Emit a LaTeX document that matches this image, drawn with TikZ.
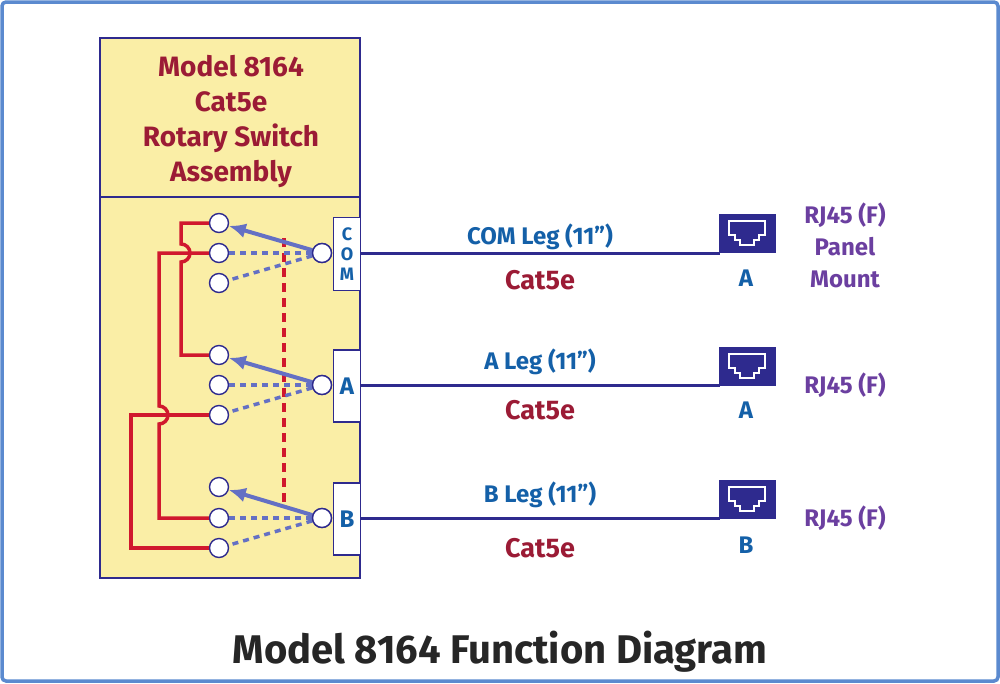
\documentclass[tikz,border=0pt]{standalone}
\usepackage{fontspec}
\setmainfont{Fira Sans}
\usetikzlibrary{arrows.meta}
\definecolor{frame}{HTML}{5B8ACF}
\definecolor{ybg}{HTML}{FAEEA6}
\definecolor{navy}{HTML}{2E2A8E}
\definecolor{ttl}{HTML}{9B1B35}
\definecolor{wred}{HTML}{D0182E}
\definecolor{lblue}{HTML}{6470C4}
\definecolor{tblue}{HTML}{1460A8}
\definecolor{purp}{HTML}{6B3FA0}
\begin{document}
\begin{tikzpicture}[x=1pt,y=-1pt,
  term/.style={circle,draw=navy,fill=white,line width=1.4pt,minimum size=19pt,inner sep=0pt},
  wire/.style={wred,line width=3.5pt},
  dashw/.style={lblue,line width=3.5pt,dash pattern=on 6pt off 5pt},
  blbl/.style={text=tblue,font=\fontsize{24}{26}\selectfont\bfseries},
  plbl/.style={text=purp,font=\fontsize{24}{26}\selectfont\bfseries},
  clbl/.style={text=ttl,font=\fontsize{27}{29}\selectfont\bfseries},
  port/.style={draw=navy,fill=white,line width=1.4pt,minimum width=27pt,minimum height=72pt,inner sep=0pt,text=tblue,font=\fontsize{24}{26}\selectfont\bfseries},
  jack/.style={fill=navy,draw=navy,minimum width=56pt,minimum height=38pt,inner sep=0pt}]
\useasboundingbox (0,0) rectangle (1000,683);
\draw[frame,line width=3.5pt,rounded corners=4pt] (2,2) rectangle (998,681);
% box
\fill[ybg] (100,38) rectangle (360,578);
\draw[navy,line width=1.8pt] (100,38) rectangle (360,578) (100,197) -- (360,197);
\node[text=ttl,align=center,font=\fontsize{28}{35}\selectfont\bfseries] (title) at (231,121) {Model 8164\\Cat5e\\Rotary Switch\\Assembly};
% terminals
\foreach \n/\y in {c1/223,c2/253,c3/283,a1/355,a2/385,a3/415,b1/487,b2/518,b3/548}
  \node[term] (\n) at (219,\y) {};
% red wires
\draw[wire] (c1.west) -- (181,223) -- (181,244) arc[start angle=90,end angle=-90,radius=9pt] -- (181,355) -- (a1.west);
\draw[wire] (c2.west) -- (159,253) -- (159,406) arc[start angle=90,end angle=-90,radius=9pt] -- (159,518) -- (b2.west);
\draw[wire] (a3.west) -- (131,415) -- (131,548) -- (b3.west);
\draw[wred,line width=3.5pt,dash pattern=on 9pt off 6pt] (284,238) -- (284,503);
% ports
\node[port,minimum height=73pt,align=center,font=\fontsize{18}{20}\selectfont\bfseries] (pc) at (347,254) {C\\O\\M};
\node[port] (pa) at (347,386) {A};
\node[port] (pb) at (347,519) {B};
\foreach \y/\t in {253/c,385/a,518/b}{
  \node[term] (\t p) at (322,\y) {};
  \draw[dashw] (\t p) -- (\t 2);
  \draw[dashw] (\t p) -- (\t 3);
  \draw[lblue,line width=4pt,-{Latex[length=17pt,width=15pt]}] (\t p) -- (\t 1);
  \node[term] at (322,\y) {};
}
% jacks
\foreach \j/\y in {ja/233,jb/366,jc/499}{
  \node[jack] (\j) at (747,\y) {};
  \draw[white,line width=2.5pt,line join=miter] (\j.center) ++(-18,-12) -- ++(36,0) -- ++(0,14) -- ++(-6,0) -- ++(0,5) -- ++(-5,0) -- ++(0,5) -- ++(-14,0) -- ++(0,-5) -- ++(-5,0) -- ++(0,-5) -- ++(-6,0) -- cycle;
}
\coordinate (ea) at (720,253); \coordinate (eb) at (720,385); \coordinate (ec) at (720,518);
\draw[navy,line width=3pt] (pc.east |- ea) -- (ea);
\draw[navy,line width=3pt] (pa.east |- eb) -- (eb);
\draw[navy,line width=3pt] (pb.east |- ec) -- (ec);
% labels
\node[blbl] (l1) at (540,237) {COM Leg (11”)};
\node[clbl] (k1) at (540,280) {Cat5e};
\node[blbl] (l2) at (540,362) {A Leg (11”)};
\node[clbl] (k2) at (540,410) {Cat5e};
\node[blbl] (l3) at (540,495) {B Leg (11”)};
\node[clbl] (k3) at (540,548) {Cat5e};
\node[blbl] (n1) at (746,278) {A};
\node[blbl] (n2) at (746,410) {A};
\node[blbl] (n3) at (746,545) {B};
\node[plbl,align=center,font=\fontsize{24}{32}\selectfont\bfseries] (r1) at (845,245) {RJ45 (F)\\Panel\\Mount};
\node[plbl] (r2) at (845,385) {RJ45 (F)};
\node[plbl] (r3) at (845,518) {RJ45 (F)};
\node[text=black!85,font=\fontsize{40}{42}\selectfont\bfseries] (main) at (500,652) {Model 8164 Function Diagram};
\end{tikzpicture}
\end{document}
